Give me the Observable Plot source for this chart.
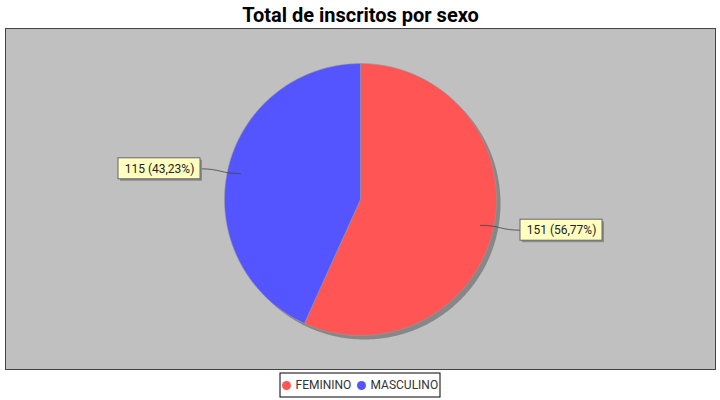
<!DOCTYPE html>
<html><head><meta charset="utf-8">
<script src="https://cdn.jsdelivr.net/npm/d3@7"></script>
<script src="https://cdn.jsdelivr.net/npm/@observablehq/plot@0.6"></script>
<style>body{margin:0;background:#fff}</style>
</head><body><div id="chart"></div>
<script>
const categories = ["FEMININO", "MASCULINO"];
const counts = [151, 115];
const colors = ["#ff5555", "#5555ff"];
const title = "Total de inscritos por sexo";

// layout constants
const cx = 360, cy = 199, R = 136;
const total = d3.sum(counts);
const fmt = v => v.toFixed(2).replace(".", ",");

const arcs = d3.pie().sort(null).value(d => d.count)(
  categories.map((c, i) => ({cat: c, count: counts[i]}))
);

const slicePts = [];
arcs.forEach(a => {
  const n = Math.max(4, Math.ceil((a.endAngle - a.startAngle) / (Math.PI / 360)));
  slicePts.push({cat: a.data.cat, x: cx, y: cy});
  for (let k = 0; k <= n; k++) {
    const t = a.startAngle + (a.endAngle - a.startAngle) * k / n;
    slicePts.push({cat: a.data.cat, x: cx + R * Math.sin(t), y: cy - R * Math.cos(t)});
  }
  slicePts.push({cat: a.data.cat, x: cx, y: cy});
});

const shadowPts = d3.range(0, 721).map(k => {
  const t = k / 720 * 2 * Math.PI;
  return {x: cx + 4 + R * Math.sin(t), y: cy + 4 - R * Math.cos(t)};
});

const boxW = 82, boxH = 21, gap = 160;
const labels = arcs.map(a => {
  const mid = (a.startAngle + a.endAngle) / 2;
  const right = Math.sin(mid) > 0;
  const ly = cy - 1.07 * R * Math.cos(mid);
  const edge = right ? cx + gap : cx - gap;
  const x1 = right ? edge : edge - boxW;
  return {
    text: `${a.data.count} (${fmt(a.data.count / total * 100)}%)`,
    ax: cx + 0.9 * R * Math.sin(mid), ay: cy - 0.9 * R * Math.cos(mid),
    edge, ly, x1, x2: x1 + boxW, y1: ly - boxH / 2, y2: ly + boxH / 2, tx: x1 + boxW / 2
  };
});

const legendX = [286, 361];
const legendY = 385;
const legend = categories.map((c, i) => ({cat: c, x: legendX[i]}));

const chart = Plot.plot({
  width: 720, height: 400,
  marginLeft: 5, marginRight: 5, marginTop: 28, marginBottom: 31,
  x: {domain: [5, 715], axis: null},
  y: {domain: [28, 369], reverse: true, axis: null},
  color: {domain: categories, range: colors},
  style: {background: "white", fontFamily: "Roboto", overflow: "visible"},
  marks: [
    Plot.frame({fill: "#c0c0c0", stroke: "#444"}),
    Plot.line(shadowPts, {x: "x", y: "y", fill: "#878787", stroke: "none"}),
    Plot.line(slicePts, {x: "x", y: "y", z: "cat", fill: "cat", stroke: "#9a9a9a", strokeWidth: 0.6}),
    Plot.link(labels, {x1: "edge", y1: "ly", x2: "ax", y2: "ay", curve: "bump-x", stroke: "#444", strokeWidth: 0.8}),
    Plot.rect(labels, {x1: d => d.x1 + 2, x2: d => d.x2 + 2, y1: d => d.y1 + 2, y2: d => d.y2 + 2, fill: "#8c8c8c"}),
    Plot.rect(labels, {x1: "x1", x2: "x2", y1: "y1", y2: "y2", fill: "#ffffc0", stroke: "#666", strokeWidth: 1}),
    Plot.text(labels, {x: "tx", y: "ly", text: "text", fontSize: 12, fill: "#222"}),
    Plot.text([title], {x: cx, y: 15, text: d => d, fontSize: 20, fontWeight: "bold", fill: "#000"}),
    Plot.rect([0], {x1: 280, x2: 440, y1: 373, y2: 397, fill: "white", stroke: "#000"}),
    Plot.dot(legend, {x: "x", y: legendY, r: 4.5, fill: "cat", stroke: "none"}),
    Plot.text(legend, {x: d => d.x + 9, y: legendY, text: "cat", textAnchor: "start", fontSize: 12, fill: "#333"})
  ]
});
document.getElementById("chart").appendChild(chart);
</script>
</body></html>
